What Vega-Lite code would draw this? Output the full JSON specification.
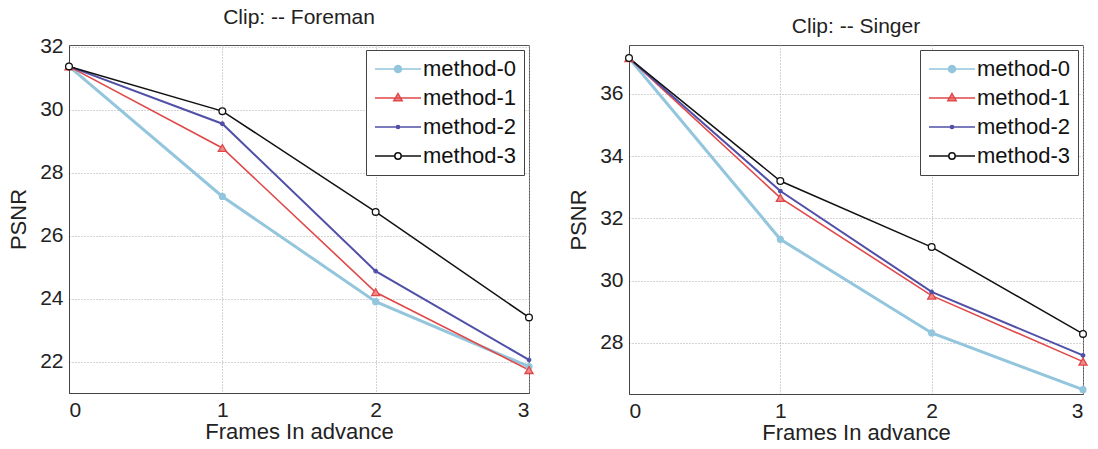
{
  "$schema": "https://vega.github.io/schema/vega-lite/v6.json",
  "background": "white",
  "padding": {"left": 7, "top": 6, "right": 5, "bottom": 4},
  "spacing": 30,
  "config": {
    "font": "Liberation Sans",
    "view": {"stroke": "#555", "strokeWidth": 1},
    "axis": {
      "labelFont": "Liberation Sans", "titleFont": "Liberation Sans",
      "labelFontSize": 21, "titleFontSize": 22, "titleFontWeight": "normal",
      "labelColor": "#222", "titleColor": "#222",
      "domainColor": "#444", "ticks": false, "labelPadding": 6,
      "gridColor": "#aaa", "gridDash": [1, 2], "gridWidth": 1
    },
    "title": {"font": "Liberation Sans", "fontSize": 21, "fontWeight": "normal", "color": "#222", "offset": 8},
    "legend": {
      "orient": "top-right", "offset": 5, "title": null,
      "fillColor": "white", "strokeColor": "#444", "padding": 8,
      "labelFont": "Liberation Sans", "labelFontSize": 22, "labelColor": "#111",
      "symbolSize": 400, "symbolStrokeWidth": 1.5, "symbolOffset": 13, "labelOffset": 14, "rowPadding": 7
    }
  },
  "datasets": {
    "psnr": [
      {"clip": "Foreman", "method": "method-0", "frame": 0, "psnr": 31.37},
      {"clip": "Foreman", "method": "method-0", "frame": 1, "psnr": 27.24},
      {"clip": "Foreman", "method": "method-0", "frame": 2, "psnr": 23.9},
      {"clip": "Foreman", "method": "method-0", "frame": 3, "psnr": 21.84},
      {"clip": "Foreman", "method": "method-1", "frame": 0, "psnr": 31.37},
      {"clip": "Foreman", "method": "method-1", "frame": 1, "psnr": 28.78},
      {"clip": "Foreman", "method": "method-1", "frame": 2, "psnr": 24.2},
      {"clip": "Foreman", "method": "method-1", "frame": 3, "psnr": 21.73},
      {"clip": "Foreman", "method": "method-2", "frame": 0, "psnr": 31.37},
      {"clip": "Foreman", "method": "method-2", "frame": 1, "psnr": 29.55},
      {"clip": "Foreman", "method": "method-2", "frame": 2, "psnr": 24.87},
      {"clip": "Foreman", "method": "method-2", "frame": 3, "psnr": 22.05},
      {"clip": "Foreman", "method": "method-3", "frame": 0, "psnr": 31.37},
      {"clip": "Foreman", "method": "method-3", "frame": 1, "psnr": 29.95},
      {"clip": "Foreman", "method": "method-3", "frame": 2, "psnr": 26.75},
      {"clip": "Foreman", "method": "method-3", "frame": 3, "psnr": 23.4},
      {"clip": "Singer", "method": "method-0", "frame": 0, "psnr": 37.15},
      {"clip": "Singer", "method": "method-0", "frame": 1, "psnr": 31.33},
      {"clip": "Singer", "method": "method-0", "frame": 2, "psnr": 28.32},
      {"clip": "Singer", "method": "method-0", "frame": 3, "psnr": 26.5},
      {"clip": "Singer", "method": "method-1", "frame": 0, "psnr": 37.15},
      {"clip": "Singer", "method": "method-1", "frame": 1, "psnr": 32.66},
      {"clip": "Singer", "method": "method-1", "frame": 2, "psnr": 29.52},
      {"clip": "Singer", "method": "method-1", "frame": 3, "psnr": 27.4},
      {"clip": "Singer", "method": "method-2", "frame": 0, "psnr": 37.15},
      {"clip": "Singer", "method": "method-2", "frame": 1, "psnr": 32.88},
      {"clip": "Singer", "method": "method-2", "frame": 2, "psnr": 29.64},
      {"clip": "Singer", "method": "method-2", "frame": 3, "psnr": 27.6},
      {"clip": "Singer", "method": "method-3", "frame": 0, "psnr": 37.15},
      {"clip": "Singer", "method": "method-3", "frame": 1, "psnr": 33.2},
      {"clip": "Singer", "method": "method-3", "frame": 2, "psnr": 31.08},
      {"clip": "Singer", "method": "method-3", "frame": 3, "psnr": 28.29}
    ]
  },
  "hconcat": [
    {
      "title": "Clip: -- Foreman",
      "width": 460, "height": 348,
      "data": {"name": "psnr"},
      "transform": [{"filter": "datum.clip === 'Foreman'"}],
      "encoding": {
        "x": {"field": "frame", "type": "quantitative", "scale": {"domain": [0, 3], "nice": false}, "axis": {"values": [0, 1, 2, 3], "format": "d", "title": "Frames In advance", "titlePadding": 1}},
        "y": {"field": "psnr", "type": "quantitative", "scale": {"domain": [21, 32.05], "nice": false, "zero": false}, "axis": {"values": [22, 24, 26, 28, 30, 32], "title": "PSNR", "titlePadding": 9}}
      },
      "layer": [
        {
          "mark": {"type": "line"},
          "encoding": {
            "color": {"field": "method", "type": "nominal", "scale": {"domain": ["method-0", "method-1", "method-2", "method-3"], "range": ["#93c6dd", "#e04848", "#5050a8", "#111111"]},
              "legend": {"symbolType": "stroke", "encode": {"symbols": {"update": {
                "shape": {"signal": "datum.value === 'method-0' ? 'M-2.3,0H2.3M0.35,0A0.35,0.35 0 1 1 -0.35,0A0.35,0.35 0 1 1 0.35,0' : datum.value === 'method-1' ? 'M-2.3,0H2.3M0,-0.45L0.42,0.28L-0.42,0.28Z' : datum.value === 'method-2' ? 'M-2.3,0H2.3M0.16,0A0.16,0.16 0 1 1 -0.16,0A0.16,0.16 0 1 1 0.16,0' : 'M-2.3,0H-0.32M0.32,0H2.3M0.32,0A0.32,0.32 0 1 1 -0.32,0A0.32,0.32 0 1 1 0.32,0'"},
                "fill": {"signal": "datum.value === 'method-0' ? '#93c6dd' : datum.value === 'method-1' ? '#f08a8a' : datum.value === 'method-2' ? '#5050a8' : '#ffffff'"}
              }}}}},
            "strokeWidth": {"field": "method", "type": "nominal", "scale": {"type": "ordinal", "domain": ["method-0", "method-1", "method-2", "method-3"], "range": [3, 1.6, 2, 1.5]}, "legend": null}
          }
        },
        {
          "mark": {"type": "point", "opacity": 1, "strokeWidth": 1.3},
          "encoding": {
            "shape": {"field": "method", "type": "nominal", "scale": {"domain": ["method-0", "method-1", "method-2", "method-3"], "range": ["circle", "triangle-up", "circle", "circle"]}, "legend": null},
            "stroke": {"field": "method", "type": "nominal", "scale": {"domain": ["method-0", "method-1", "method-2", "method-3"], "range": ["#93c6dd", "#e04848", "#5050a8", "#111111"]}, "legend": null},
            "fill": {"field": "method", "type": "nominal", "scale": {"domain": ["method-0", "method-1", "method-2", "method-3"], "range": ["#93c6dd", "#f08a8a", "#5050a8", "#ffffff"]}, "legend": null},
            "size": {"field": "method", "type": "nominal", "scale": {"type": "ordinal", "domain": ["method-0", "method-1", "method-2", "method-3"], "range": [35, 65, 12, 45]}, "legend": null}
          }
        }
      ]
    },
    {
      "title": "Clip: -- Singer",
      "width": 454, "height": 349,
      "data": {"name": "psnr"},
      "transform": [{"filter": "datum.clip === 'Singer'"}],
      "encoding": {
        "x": {"field": "frame", "type": "quantitative", "scale": {"domain": [0, 3], "nice": false}, "axis": {"values": [0, 1, 2, 3], "format": "d", "title": "Frames In advance", "titlePadding": 1}},
        "y": {"field": "psnr", "type": "quantitative", "scale": {"domain": [26.36, 37.57], "nice": false, "zero": false}, "axis": {"values": [28, 30, 32, 34, 36], "title": "PSNR", "titlePadding": 9}}
      },
      "layer": [
        {
          "mark": {"type": "line"},
          "encoding": {
            "color": {"field": "method", "type": "nominal", "scale": {"domain": ["method-0", "method-1", "method-2", "method-3"], "range": ["#93c6dd", "#e04848", "#5050a8", "#111111"]},
              "legend": {"symbolType": "stroke", "encode": {"symbols": {"update": {
                "shape": {"signal": "datum.value === 'method-0' ? 'M-2.3,0H2.3M0.35,0A0.35,0.35 0 1 1 -0.35,0A0.35,0.35 0 1 1 0.35,0' : datum.value === 'method-1' ? 'M-2.3,0H2.3M0,-0.45L0.42,0.28L-0.42,0.28Z' : datum.value === 'method-2' ? 'M-2.3,0H2.3M0.16,0A0.16,0.16 0 1 1 -0.16,0A0.16,0.16 0 1 1 0.16,0' : 'M-2.3,0H-0.32M0.32,0H2.3M0.32,0A0.32,0.32 0 1 1 -0.32,0A0.32,0.32 0 1 1 0.32,0'"},
                "fill": {"signal": "datum.value === 'method-0' ? '#93c6dd' : datum.value === 'method-1' ? '#f08a8a' : datum.value === 'method-2' ? '#5050a8' : '#ffffff'"}
              }}}}},
            "strokeWidth": {"field": "method", "type": "nominal", "scale": {"type": "ordinal", "domain": ["method-0", "method-1", "method-2", "method-3"], "range": [3, 1.6, 2, 1.5]}, "legend": null}
          }
        },
        {
          "mark": {"type": "point", "opacity": 1, "strokeWidth": 1.3},
          "encoding": {
            "shape": {"field": "method", "type": "nominal", "scale": {"domain": ["method-0", "method-1", "method-2", "method-3"], "range": ["circle", "triangle-up", "circle", "circle"]}, "legend": null},
            "stroke": {"field": "method", "type": "nominal", "scale": {"domain": ["method-0", "method-1", "method-2", "method-3"], "range": ["#93c6dd", "#e04848", "#5050a8", "#111111"]}, "legend": null},
            "fill": {"field": "method", "type": "nominal", "scale": {"domain": ["method-0", "method-1", "method-2", "method-3"], "range": ["#93c6dd", "#f08a8a", "#5050a8", "#ffffff"]}, "legend": null},
            "size": {"field": "method", "type": "nominal", "scale": {"type": "ordinal", "domain": ["method-0", "method-1", "method-2", "method-3"], "range": [35, 65, 12, 45]}, "legend": null}
          }
        }
      ]
    }
  ],
  "resolve": {"scale": {"color": "independent", "y": "independent"}, "legend": {"color": "independent"}}
}
